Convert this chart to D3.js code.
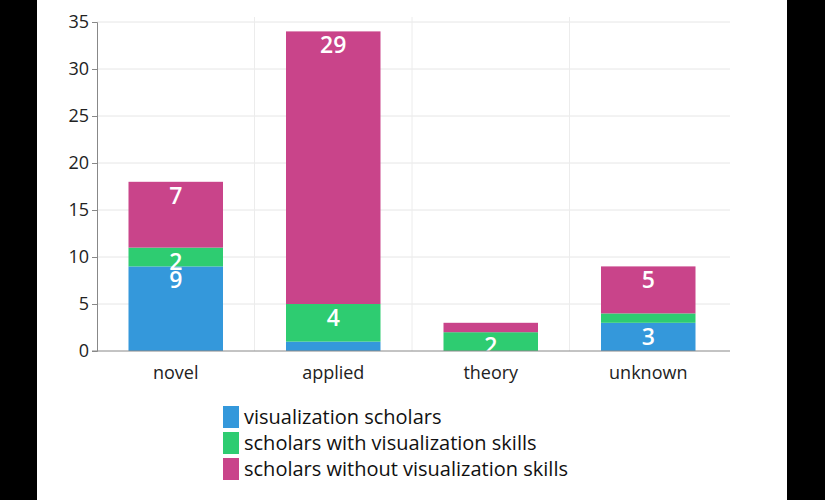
<!DOCTYPE html>
<html><head><meta charset="utf-8">
<script src="https://cdn.jsdelivr.net/npm/d3@7"></script>
<style>body{margin:0;background:#000}svg{display:block}</style>
</head><body>
<svg id="c" width="825" height="500"></svg>
<script>
const categories = ['novel', 'applied', 'theory', 'unknown'];
const seriesNames = ['visualization scholars', 'scholars with visualization skills', 'scholars without visualization skills'];
const visScholars = [9, 1, 0, 3];
const withSkills = [2, 4, 2, 1];
const withoutSkills = [7, 29, 1, 5];
const colors = ['#3498db', '#2ecc71', '#c9448a'];
const yTicks = [0, 5, 10, 15, 20, 25, 30, 35];

const svg = d3.select('#c');
svg.append('rect').attr('x', 37).attr('width', 750).attr('height', 500).attr('fill', '#fff');

const mLeft = 97, mRight = 730, mTop = 22, mBottom = 351;
const x = d3.scaleBand().domain(categories).range([mLeft, mRight - 3]).paddingInner(0.4).paddingOuter(0.2);
const y = d3.scaleLinear().domain([0, 35]).range([mBottom, mTop]);

const rows = categories.map((c, i) => ({cat: c, a: visScholars[i], b: withSkills[i], c2: withoutSkills[i]}));
const stack = d3.stack().keys(['a', 'b', 'c2'])(rows);

// grid
svg.append('g').selectAll('line').data(yTicks.slice(1)).join('line')
  .attr('x1', mLeft).attr('x2', mRight).attr('y1', d => y(d)).attr('y2', d => y(d))
  .attr('stroke', '#e6e6e6');
svg.append('g').selectAll('line').data([1, 2, 3]).join('line')
  .attr('x1', d => mLeft + (mRight - 3 - mLeft) * d / 4).attr('x2', d => mLeft + (mRight - 3 - mLeft) * d / 4)
  .attr('y1', 17).attr('y2', mBottom).attr('stroke', '#ececec');

stack.forEach((s, si) => {
  const g = svg.append('g');
  g.selectAll('rect').data(s).join('rect')
    .attr('x', d => x(d.data.cat)).attr('width', x.bandwidth())
    .attr('y', d => y(d[1])).attr('height', d => y(d[0]) - y(d[1]))
    .attr('fill', colors[si]);
  g.selectAll('text').data(s.filter(d => d[1] - d[0] >= 2)).join('text')
    .attr('x', d => x(d.data.cat) + x.bandwidth() / 2)
    .attr('y', d => y(d[1]) + 22)
    .attr('text-anchor', 'middle').attr('fill', '#fff')
    .attr('font-family', 'Open Sans').attr('font-size', 23).attr('font-weight', 600)
    .text(d => d[1] - d[0]);
});

const ya = svg.append('g').attr('transform', `translate(${mLeft},0)`)
  .call(d3.axisLeft(y).tickValues(yTicks).tickSize(5));
const xa = svg.append('g').attr('transform', `translate(0,${mBottom})`)
  .call(d3.axisBottom(x).tickSize(0).tickPadding(15));
xa.select('.domain').attr('d', `M${mLeft - 5},0H${mRight}`);
[ya, xa].forEach(a => {
  a.selectAll('.domain,line').attr('stroke', '#888');
  a.selectAll('text').attr('font-family', 'Open Sans').attr('font-size', 18).attr('fill', '#222');
});

const lg = svg.append('g').selectAll('g').data(seriesNames).join('g')
  .attr('transform', (d, i) => `translate(223,${406 + i * 26})`);
lg.append('rect').attr('width', 16).attr('height', 22).attr('fill', (d, i) => colors[i]);
lg.append('text').attr('x', 21).attr('y', 18).attr('font-family', 'Open Sans').attr('font-size', 20)
  .attr('fill', '#111').text(d => d);
</script>
</body></html>
